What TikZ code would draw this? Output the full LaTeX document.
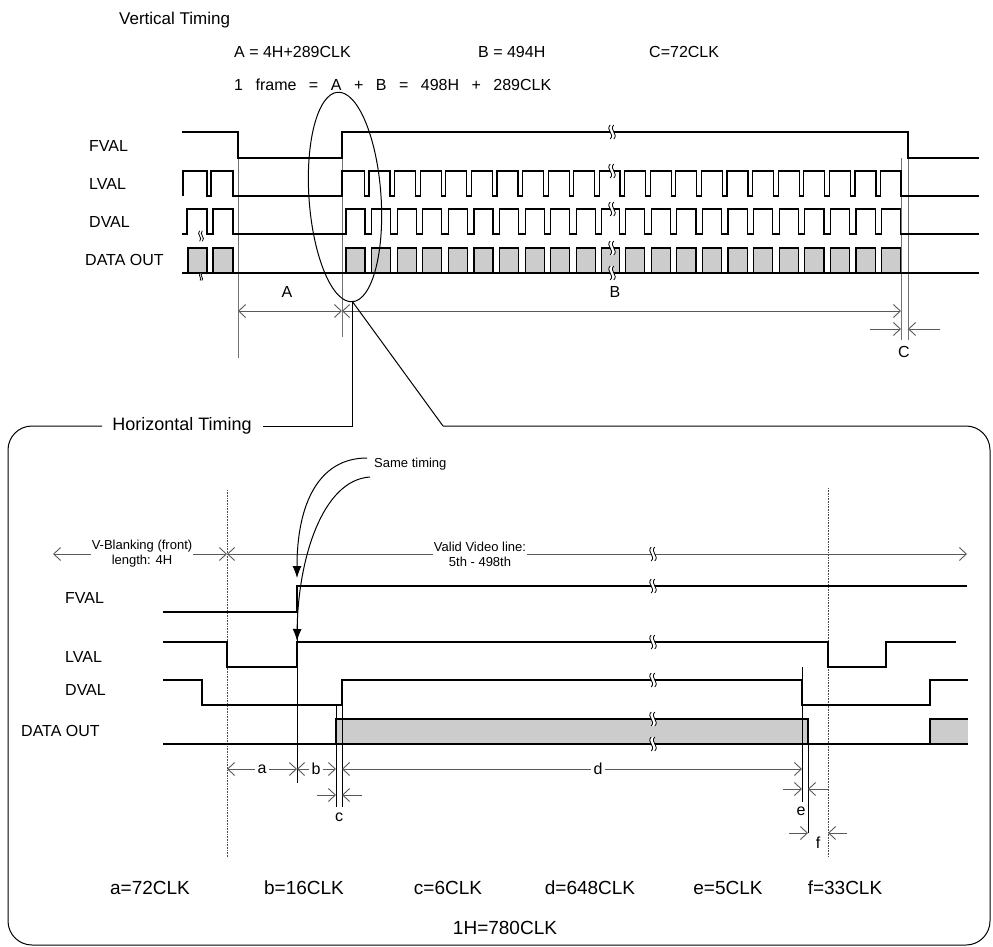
\documentclass[tikz,border=0pt]{standalone}
\usepackage{fontspec}
\setmainfont{Liberation Sans}
\usetikzlibrary{arrows.meta}

\tikzset{
  sig/.style={line width=1.3pt},
  guide/.style={black!55, line width=0.8pt},
  dotguide/.style={black!70, line width=0.6pt, densely dotted},
  dimline/.style={black!65, line width=0.9pt, >={Straight Barb[length=7pt,width=13pt]}},
  databox/.style={fill=black!20, line width=1.3pt},
  lbl/.style={font=\fontsize{16}{19}\selectfont, inner sep=1pt},
  biglbl/.style={font=\fontsize{19}{22}\selectfont, inner sep=1pt},
  smalllbl/.style={font=\fontsize{13}{15}\selectfont, inner sep=1pt, align=center},
  brk/.pic={
    \fill[white] (-1.8,-7) .. controls (-6.8,-2) and (3.2,2) .. (-1.8,7) -- (1.8,7) .. controls (6.8,2) and (-3.2,-2) .. (1.8,-7) -- cycle;
    \draw[line width=0.8pt] (-1.8,-7) .. controls (-6.8,-2) and (3.2,2) .. (-1.8,7);
    \draw[line width=0.8pt] (1.8,-7) .. controls (-3.2,-2) and (6.8,2) .. (1.8,7);
  }
}

\begin{document}
\begin{tikzpicture}[x=1pt,y=-1pt,>=latex]
\useasboundingbox (0,0) rectangle (993,947);

% headings
\node[lbl, font=\fontsize{17}{20}\selectfont, anchor=west] (vtitle) at (118,20) {Vertical Timing};
\node[lbl, anchor=west] (defA) at (233,52) {A = 4H+289CLK};
\node[lbl, anchor=west] (defB) at (477,52) {B = 494H};
\node[lbl, anchor=west] (defC) at (648,52) {C=72CLK};
\node[lbl, anchor=west] (frame) at (233,85) {\spaceskip=12.5pt 1 frame = A + B = 498H + 289CLK};

% vertical timing: signal names
\node[lbl, anchor=west] (vfval) at (88,146) {FVAL};
\node[lbl, anchor=west] (vlval) at (88,184) {LVAL};
\node[lbl, anchor=west] (vdval) at (88,222) {DVAL};
\node[lbl, anchor=west] (vdata) at (84,260) {DATA OUT};

% guide lines
\draw[guide] (238,158) -- (238,358);
\draw[guide] (342,158) -- (342,337);
\draw[guide] (901,158) -- (901,340);
\draw[guide] (908,158) -- (908,340);

% FVAL
\draw[sig] (182,132) -- (238,132) -- (238,158) -- (342,158) -- (342,132) -- (908,132) -- (908,158) -- (979,158);
% LVAL
\draw[sig] (183,196) -- (183,171) -- (207,171) -- (207,196) -- (211,196) -- (211,171) -- (233,171) -- (233,196) -- (342,196) -- (342,171)
  \foreach \k in {0,...,9}{ -- ({364.4+25.6*\k},171) -- ({364.4+25.6*\k},196) -- ({369+25.6*\k},196) -- ({369+25.6*\k},171) }
  \foreach \k in {0,...,10}{ -- ({620+25.6*\k},171) -- ({620+25.6*\k},196) -- ({624.6+25.6*\k},196) -- ({624.6+25.6*\k},171) }
  -- (901,171) -- (901,196) -- (979,196);
% DVAL
\draw[sig] (182,234) -- (187,234) -- (187,209) -- (207,209) -- (207,234) -- (213,234) -- (213,209) -- (233,209) -- (233,234) -- (346,234)
  \foreach \k in {0,...,9}{ -- ({346+25.6*\k},234) -- ({346+25.6*\k},209) -- ({365+25.6*\k},209) -- ({365+25.6*\k},234) }
  -- (601.6,234) -- (601.6,209) -- (619.4,209) -- (619.4,234)
  \foreach \k in {0,...,10}{ -- ({625.6+25.6*\k},234) -- ({625.6+25.6*\k},209) -- ({644.8+25.6*\k},209) -- ({644.8+25.6*\k},234) }
  -- (979,234);
% DATA OUT
\draw[databox] (188,273) rectangle (207,248);
\draw[databox] (213,273) rectangle (233,248);
\foreach \k in {0,...,9} \draw[databox] ({346+25.6*\k},273) rectangle ({365+25.6*\k},248);
\draw[databox] (601.6,273) rectangle (619.4,248);
\foreach \k in {0,...,10} \draw[databox] ({625.6+25.6*\k},273) rectangle ({644.8+25.6*\k},248);
\draw[sig] (182,273) -- (979,273);

\foreach \y in {132,171,209,248,273} \pic at (612,\y) {brk};
\pic[scale=0.75] at (201,236) {brk};
\pic[scale=0.5] at (201,277) {brk};

% A, B, C
\coordinate (tA) at (238,311);
\coordinate (tB) at (342,311);
\coordinate (tE) at (901,311);
\draw[dimline, <->] (tA) -- (tB);
\draw[dimline, <->] (tB) -- (tE);
\node[lbl] (labA) at (287,292) {A};
\node[lbl] (labB) at (615,292) {B};
\coordinate (c1) at (870,329);
\coordinate (c2) at (901,329);
\coordinate (c3) at (940,329);
\coordinate (c4) at (908,329);
\draw[dimline, ->] (c1) -- (c2);
\draw[dimline, ->] (c3) -- (c4);
\node[lbl] (labC) at (904,352) {C};

% zoom ellipse and frame
\draw[line width=1pt, rotate around={4:(345,197)}] (345,197) ellipse [x radius=36, y radius=105];
\coordinate (ellbot) at (352,301);
\coordinate (fa) at (352,426);
\coordinate (fb) at (263,426);
\coordinate (fc) at (443,426);
\coordinate (fd) at (102,426);
\draw[line width=1pt] (ellbot) -- (fa) -- (fb);
\draw[line width=1pt] (ellbot) -- (fc);
\draw[line width=1pt, rounded corners=24pt] (fc) -- (990,426) -- (990,945) -- (8,945) -- (8,426) -- (fd);
\node[lbl, font=\fontsize{18}{21}\selectfont] (htitle) at (182,426) {Horizontal Timing};

% horizontal timing
\node[lbl, anchor=west] (hfval) at (64,598) {FVAL};
\node[lbl, anchor=west] (hlval) at (64,657) {LVAL};
\node[lbl, anchor=west] (hdval) at (64,690) {DVAL};
\node[lbl, anchor=west] (hdata) at (20,731) {DATA OUT};

\draw[dotguide] (227,490) -- (227,857);
\draw[dotguide] (828,488) -- (828,857);

\coordinate (v0) at (53,554);
\coordinate (v1) at (227,554);
\coordinate (v2) at (967,554);
\draw[dimline, <->] (v0) -- (v1);
\draw[dimline, <->] (v1) -- (v2);
\node[smalllbl, fill=white] (vblank) at (142,554) {V-Blanking (front)\\length: 4H};
\node[smalllbl, fill=white] (valid) at (480,554) {Valid Video line:\\5th - 498th};

% FVAL
\draw[sig] (163,612) -- (297,612) -- (297,586) -- (967,586);
% LVAL
\draw[sig] (163,642) -- (227,642) -- (227,667) -- (297,667) -- (297,642) -- (828,642) -- (828,667) -- (886,667) -- (886,642) -- (956,642);
% DVAL
\draw[sig] (163,680) -- (202,680) -- (202,705) -- (342,705) -- (342,680) -- (802,680) -- (802,705) -- (930,705) -- (930,680) -- (968,680);
% DATA OUT
\draw[databox] (336,744) rectangle (808,719);
\fill[black!20] (930,719) rectangle (968,744);
\draw[sig] (968,719) -- (930,719) -- (930,744);
\draw[sig] (163,744) -- (968,744);

\foreach \y in {554,586,642,680,719,744} \pic at (653,\y) {brk};

% edges
\draw[line width=0.8pt] (297,586) -- (297,783);
\draw[line width=0.8pt] (342,680) -- (342,807);
\draw[line width=0.8pt] (336,705) -- (336,807);
\draw[line width=0.8pt] (802,667) -- (802,802);
\draw[line width=0.8pt] (808,719) -- (808,833);

% same timing
\node[smalllbl, anchor=west] (same) at (373,464) {Same timing};
\draw[line width=1pt, -{Latex[length=12pt,width=9pt]}] (367,458) .. controls (318,458) and (297,505) .. (297,578);
\draw[line width=1pt, -{Latex[length=12pt,width=9pt]}] (370,477) .. controls (322,480) and (298,560) .. (297,641);

% a, b, c, d, e, f
\coordinate (ha) at (227,769);
\coordinate (hb) at (297,769);
\coordinate (hc) at (336,769);
\coordinate (hd) at (342,769);
\coordinate (he) at (802,769);
\draw[dimline, <->] (ha) -- (hb);
\draw[dimline, <->] (hb) -- (hc);
\draw[dimline, <->] (hd) -- (he);
\node[lbl, fill=white, inner sep=3pt] (laba) at (262,769) {a};
\node[lbl, fill=white, inner sep=3pt] (labb) at (316,769) {b};
\node[lbl, fill=white, inner sep=3pt] (labd) at (598,769) {d};
\draw[dimline, ->] (317,795) -- (336,795);
\draw[dimline, ->] (362,795) -- (342,795);
\node[lbl] (labc) at (339,817) {c};
\draw[dimline, ->] (783,789) -- (802,789);
\draw[dimline, ->] (828,789) -- (808,789);
\node[lbl] (labe) at (801,811) {e};
\draw[dimline, ->] (789,833) -- (808,833);
\draw[dimline, ->] (847,833) -- (828,833);
\node[lbl] (labf) at (818,843) {f};

% values
\node[biglbl] (vala) at (150,888) {a=72CLK};
\node[biglbl] (valb) at (304,888) {b=16CLK};
\node[biglbl] (valc) at (448,888) {c=6CLK};
\node[biglbl] (vald) at (590,888) {d=648CLK};
\node[biglbl] (vale) at (728,888) {e=5CLK};
\node[biglbl] (valf) at (845,888) {f=33CLK};
\node[biglbl] (valh) at (505,928) {1H=780CLK};
\end{tikzpicture}
\end{document}
